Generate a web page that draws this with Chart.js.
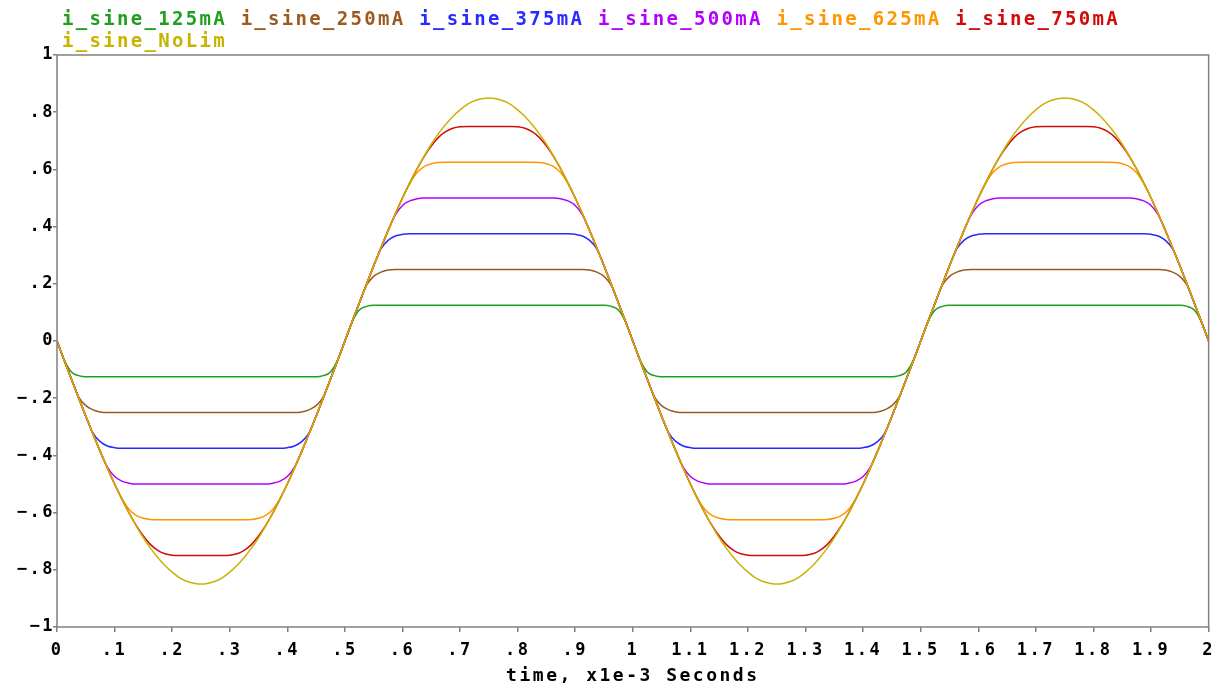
<!DOCTYPE html>
<html>
<head>
<meta charset="utf-8">
<title>i_sine</title>
<script src="https://cdn.jsdelivr.net/npm/chart.js@4/dist/chart.umd.min.js"></script>
<style>
  html, body { margin: 0; padding: 0; background: #fff; }
  #wrap { position: relative; width: 1223px; height: 688px; }
  #leyenda {
    position: absolute; left: 62px; top: 7px; width: 1120px;
    font: bold 19px "DejaVu Sans Mono", monospace; line-height: 22px;
    letter-spacing: 2.3px; white-space: normal;
  }
  canvas { position: absolute; left: 0; top: 0; }
</style>
</head>
<body>
<div id="wrap">
  <canvas id="grafica" width="1223" height="688"></canvas>
  <div id="leyenda"></div>
</div>
<script>
// eje de tiempo (ms)
const tiempo = [
  0, 0.0125, 0.025, 0.0375, 0.05, 0.0625, 0.075, 0.0875, 0.1, 0.1125, 0.125, 0.1375, 0.15, 0.1625, 0.175, 0.1875, 0.2, 0.2125, 0.225, 0.2375,
  0.25, 0.2625, 0.275, 0.2875, 0.3, 0.3125, 0.325, 0.3375, 0.35, 0.3625, 0.375, 0.3875, 0.4, 0.4125, 0.425, 0.4375, 0.45, 0.4625, 0.475, 0.4875,
  0.5, 0.5125, 0.525, 0.5375, 0.55, 0.5625, 0.575, 0.5875, 0.6, 0.6125, 0.625, 0.6375, 0.65, 0.6625, 0.675, 0.6875, 0.7, 0.7125, 0.725, 0.7375,
  0.75, 0.7625, 0.775, 0.7875, 0.8, 0.8125, 0.825, 0.8375, 0.85, 0.8625, 0.875, 0.8875, 0.9, 0.9125, 0.925, 0.9375, 0.95, 0.9625, 0.975, 0.9875,
  1, 1.0125, 1.025, 1.0375, 1.05, 1.0625, 1.075, 1.0875, 1.1, 1.1125, 1.125, 1.1375, 1.15, 1.1625, 1.175, 1.1875, 1.2, 1.2125, 1.225, 1.2375,
  1.25, 1.2625, 1.275, 1.2875, 1.3, 1.3125, 1.325, 1.3375, 1.35, 1.3625, 1.375, 1.3875, 1.4, 1.4125, 1.425, 1.4375, 1.45, 1.4625, 1.475, 1.4875,
  1.5, 1.5125, 1.525, 1.5375, 1.55, 1.5625, 1.575, 1.5875, 1.6, 1.6125, 1.625, 1.6375, 1.65, 1.6625, 1.675, 1.6875, 1.7, 1.7125, 1.725, 1.7375,
  1.75, 1.7625, 1.775, 1.7875, 1.8, 1.8125, 1.825, 1.8375, 1.85, 1.8625, 1.875, 1.8875, 1.9, 1.9125, 1.925, 1.9375, 1.95, 1.9625, 1.975, 1.9875,
  2
];

const i_sine_125mA = [
  0, -.066, -.108, -.121, -.125, -.125, -.125, -.125, -.125, -.125, -.125, -.125, -.125, -.125, -.125, -.125, -.125, -.125, -.125, -.125,
  -.125, -.125, -.125, -.125, -.125, -.125, -.125, -.125, -.125, -.125, -.125, -.125, -.125, -.125, -.125, -.125, -.125, -.121, -.108, -.066,
  0, .066, .108, .121, .125, .125, .125, .125, .125, .125, .125, .125, .125, .125, .125, .125, .125, .125, .125, .125,
  .125, .125, .125, .125, .125, .125, .125, .125, .125, .125, .125, .125, .125, .125, .125, .125, .125, .121, .108, .066,
  0, -.066, -.108, -.121, -.125, -.125, -.125, -.125, -.125, -.125, -.125, -.125, -.125, -.125, -.125, -.125, -.125, -.125, -.125, -.125,
  -.125, -.125, -.125, -.125, -.125, -.125, -.125, -.125, -.125, -.125, -.125, -.125, -.125, -.125, -.125, -.125, -.125, -.121, -.108, -.066,
  0, .066, .108, .121, .125, .125, .125, .125, .125, .125, .125, .125, .125, .125, .125, .125, .125, .125, .125, .125,
  .125, .125, .125, .125, .125, .125, .125, .125, .125, .125, .125, .125, .125, .125, .125, .125, .125, .121, .108, .066,
  0
];

const i_sine_250mA = [
  0, -.067, -.133, -.195, -.226, -.241, -.248, -.25, -.25, -.25, -.25, -.25, -.25, -.25, -.25, -.25, -.25, -.25, -.25, -.25,
  -.25, -.25, -.25, -.25, -.25, -.25, -.25, -.25, -.25, -.25, -.25, -.25, -.25, -.25, -.248, -.241, -.226, -.195, -.133, -.067,
  0, .067, .133, .195, .226, .241, .248, .25, .25, .25, .25, .25, .25, .25, .25, .25, .25, .25, .25, .25,
  .25, .25, .25, .25, .25, .25, .25, .25, .25, .25, .25, .25, .25, .25, .248, .241, .226, .195, .133, .067,
  0, -.067, -.133, -.195, -.226, -.241, -.248, -.25, -.25, -.25, -.25, -.25, -.25, -.25, -.25, -.25, -.25, -.25, -.25, -.25,
  -.25, -.25, -.25, -.25, -.25, -.25, -.25, -.25, -.25, -.25, -.25, -.25, -.25, -.25, -.248, -.241, -.226, -.195, -.133, -.067,
  0, .067, .133, .195, .226, .241, .248, .25, .25, .25, .25, .25, .25, .25, .25, .25, .25, .25, .25, .25,
  .25, .25, .25, .25, .25, .25, .25, .25, .25, .25, .25, .25, .25, .25, .248, .241, .226, .195, .133, .067,
  0
];

const i_sine_375mA = [
  0, -.067, -.133, -.198, -.263, -.322, -.352, -.367, -.373, -.375, -.375, -.375, -.375, -.375, -.375, -.375, -.375, -.375, -.375, -.375,
  -.375, -.375, -.375, -.375, -.375, -.375, -.375, -.375, -.375, -.375, -.375, -.375, -.373, -.367, -.352, -.322, -.263, -.198, -.133, -.067,
  0, .067, .133, .198, .263, .322, .352, .367, .373, .375, .375, .375, .375, .375, .375, .375, .375, .375, .375, .375,
  .375, .375, .375, .375, .375, .375, .375, .375, .375, .375, .375, .375, .373, .367, .352, .322, .263, .198, .133, .067,
  0, -.067, -.133, -.198, -.263, -.322, -.352, -.367, -.373, -.375, -.375, -.375, -.375, -.375, -.375, -.375, -.375, -.375, -.375, -.375,
  -.375, -.375, -.375, -.375, -.375, -.375, -.375, -.375, -.375, -.375, -.375, -.375, -.373, -.367, -.352, -.322, -.263, -.198, -.133, -.067,
  0, .067, .133, .198, .263, .322, .352, .367, .373, .375, .375, .375, .375, .375, .375, .375, .375, .375, .375, .375,
  .375, .375, .375, .375, .375, .375, .375, .375, .375, .375, .375, .375, .373, .367, .352, .322, .263, .198, .133, .067,
  0
];

const i_sine_500mA = [
  0, -.067, -.133, -.198, -.263, -.325, -.386, -.441, -.474, -.49, -.497, -.5, -.5, -.5, -.5, -.5, -.5, -.5, -.5, -.5,
  -.5, -.5, -.5, -.5, -.5, -.5, -.5, -.5, -.5, -.5, -.497, -.49, -.474, -.441, -.386, -.325, -.263, -.198, -.133, -.067,
  0, .067, .133, .198, .263, .325, .386, .441, .474, .49, .497, .5, .5, .5, .5, .5, .5, .5, .5, .5,
  .5, .5, .5, .5, .5, .5, .5, .5, .5, .5, .497, .49, .474, .441, .386, .325, .263, .198, .133, .067,
  0, -.067, -.133, -.198, -.263, -.325, -.386, -.441, -.474, -.49, -.497, -.5, -.5, -.5, -.5, -.5, -.5, -.5, -.5, -.5,
  -.5, -.5, -.5, -.5, -.5, -.5, -.5, -.5, -.5, -.5, -.497, -.49, -.474, -.441, -.386, -.325, -.263, -.198, -.133, -.067,
  0, .067, .133, .198, .263, .325, .386, .441, .474, .49, .497, .5, .5, .5, .5, .5, .5, .5, .5, .5,
  .5, .5, .5, .5, .5, .5, .5, .5, .5, .5, .497, .49, .474, .441, .386, .325, .263, .198, .133, .067,
  0
];

const i_sine_625mA = [
  0, -.067, -.133, -.198, -.263, -.325, -.386, -.444, -.5, -.55, -.588, -.61, -.62, -.624, -.625, -.625, -.625, -.625, -.625, -.625,
  -.625, -.625, -.625, -.625, -.625, -.625, -.625, -.624, -.62, -.61, -.588, -.55, -.5, -.444, -.386, -.325, -.263, -.198, -.133, -.067,
  0, .067, .133, .198, .263, .325, .386, .444, .5, .55, .588, .61, .62, .624, .625, .625, .625, .625, .625, .625,
  .625, .625, .625, .625, .625, .625, .625, .624, .62, .61, .588, .55, .5, .444, .386, .325, .263, .198, .133, .067,
  0, -.067, -.133, -.198, -.263, -.325, -.386, -.444, -.5, -.55, -.588, -.61, -.62, -.624, -.625, -.625, -.625, -.625, -.625, -.625,
  -.625, -.625, -.625, -.625, -.625, -.625, -.625, -.624, -.62, -.61, -.588, -.55, -.5, -.444, -.386, -.325, -.263, -.198, -.133, -.067,
  0, .067, .133, .198, .263, .325, .386, .444, .5, .55, .588, .61, .62, .624, .625, .625, .625, .625, .625, .625,
  .625, .625, .625, .625, .625, .625, .625, .624, .62, .61, .588, .55, .5, .444, .386, .325, .263, .198, .133, .067,
  0
];

const i_sine_750mA = [
  0, -.067, -.133, -.198, -.263, -.325, -.386, -.444, -.5, -.552, -.601, -.645, -.682, -.712, -.732, -.744, -.749, -.75, -.75, -.75,
  -.75, -.75, -.75, -.75, -.749, -.744, -.732, -.712, -.682, -.645, -.601, -.552, -.5, -.444, -.386, -.325, -.263, -.198, -.133, -.067,
  0, .067, .133, .198, .263, .325, .386, .444, .5, .552, .601, .645, .682, .712, .732, .744, .749, .75, .75, .75,
  .75, .75, .75, .75, .749, .744, .732, .712, .682, .645, .601, .552, .5, .444, .386, .325, .263, .198, .133, .067,
  0, -.067, -.133, -.198, -.263, -.325, -.386, -.444, -.5, -.552, -.601, -.645, -.682, -.712, -.732, -.744, -.749, -.75, -.75, -.75,
  -.75, -.75, -.75, -.75, -.749, -.744, -.732, -.712, -.682, -.645, -.601, -.552, -.5, -.444, -.386, -.325, -.263, -.198, -.133, -.067,
  0, .067, .133, .198, .263, .325, .386, .444, .5, .552, .601, .645, .682, .712, .732, .744, .749, .75, .75, .75,
  .75, .75, .75, .75, .749, .744, .732, .712, .682, .645, .601, .552, .5, .444, .386, .325, .263, .198, .133, .067,
  0
];

const i_sine_NoLim = [
  0, -.067, -.133, -.198, -.263, -.325, -.386, -.444, -.5, -.552, -.601, -.646, -.688, -.725, -.757, -.785, -.808, -.827, -.84, -.847,
  -.85, -.847, -.84, -.827, -.808, -.785, -.757, -.725, -.688, -.646, -.601, -.552, -.5, -.444, -.386, -.325, -.263, -.198, -.133, -.067,
  0, .067, .133, .198, .263, .325, .386, .444, .5, .552, .601, .646, .688, .725, .757, .785, .808, .827, .84, .847,
  .85, .847, .84, .827, .808, .785, .757, .725, .688, .646, .601, .552, .5, .444, .386, .325, .263, .198, .133, .067,
  0, -.067, -.133, -.198, -.263, -.325, -.386, -.444, -.5, -.552, -.601, -.646, -.688, -.725, -.757, -.785, -.808, -.827, -.84, -.847,
  -.85, -.847, -.84, -.827, -.808, -.785, -.757, -.725, -.688, -.646, -.601, -.552, -.5, -.444, -.386, -.325, -.263, -.198, -.133, -.067,
  0, .067, .133, .198, .263, .325, .386, .444, .5, .552, .601, .646, .688, .725, .757, .785, .808, .827, .84, .847,
  .85, .847, .84, .827, .808, .785, .757, .725, .688, .646, .601, .552, .5, .444, .386, .325, .263, .198, .133, .067,
  0
];

const nombres = ["i_sine_125mA", "i_sine_250mA", "i_sine_375mA", "i_sine_500mA", "i_sine_625mA", "i_sine_750mA", "i_sine_NoLim"];
const series  = [i_sine_125mA, i_sine_250mA, i_sine_375mA, i_sine_500mA, i_sine_625mA, i_sine_750mA, i_sine_NoLim];
const colores = ["#1ea01e", "#9e5a1e", "#2a2aff", "#b400ff", "#ff9600", "#d20a0a", "#c8b400"];

series.forEach((s, i) => console.log(nombres[i], s.length, tiempo.length));

// leyenda en texto coloreado, sin cajas
const leyenda = document.getElementById("leyenda");
nombres.forEach((n, i) => {
    const span = document.createElement("span");
    span.textContent = n;
    span.style.color = colores[i];
    leyenda.appendChild(span);
    leyenda.appendChild(document.createTextNode(" "));
});

// etiquetas tipo ".8", "−.2", "1.5"
function formatoTick(v) {
    const r = Math.round(v * 10) / 10;
    if (r === 0) return "0";
    let s = Math.abs(r).toString();
    if (s.startsWith("0.")) s = s.slice(1);
    return (r < 0 ? "\u2212" : "") + s;
}

const fuente = "'DejaVu Sans Mono', monospace";

// espaciado de letras para el texto del canvas
const espaciado = {
    id: "espaciado",
    beforeUpdate(chart) { chart.ctx.letterSpacing = "2.5px"; },
    beforeDraw(chart) { chart.ctx.letterSpacing = "2.5px"; }
};

// marco gris alrededor del área de trazado
const marco = {
    id: "marco",
    afterDraw(chart) {
        const { ctx, chartArea: a } = chart;
        ctx.save();
        ctx.strokeStyle = "#808080";
        ctx.lineWidth = 1.5;
        ctx.strokeRect(a.left, a.top, a.right - a.left, a.bottom - a.top);
        ctx.restore();
    }
};

const datasets = series.map((s, i) => ({
    label: nombres[i],
    data: tiempo.map((t, j) => ({ x: t, y: s[j] })),
    borderColor: colores[i],
    backgroundColor: colores[i],
    borderWidth: 1.5,
    pointRadius: 0,
    fill: false,
    cubicInterpolationMode: "monotone",
    order: i === 6 ? 0 : 7 - i
}));

const ctx = document.getElementById("grafica").getContext("2d");
new Chart(ctx, {
    type: "line",
    data: { datasets: datasets },
    plugins: [espaciado, marco],
    options: {
        responsive: false,
        devicePixelRatio: 1,
        animation: false,
        layout: { padding: { top: 55, right: 13, left: 0, bottom: 0 } },
        plugins: {
            legend: { display: false },
            tooltip: { enabled: false }
        },
        scales: {
            x: {
                type: "linear",
                min: 0,
                max: 2,
                ticks: {
                    stepSize: 0.1,
                    autoSkip: false,
                    maxRotation: 0,
                    color: "#000",
                    padding: 8,
                    font: { family: fuente, size: 17, weight: "bold" },
                    callback: formatoTick
                },
                grid: { drawOnChartArea: false, drawTicks: true, tickLength: 5, color: "#808080", lineWidth: 1.5 },
                border: { display: false },
                title: {
                    display: true,
                    text: "time, x1e-3 Seconds",
                    color: "#000",
                    font: { family: fuente, size: 18, weight: "bold" },
                    padding: { top: 0, bottom: 1 }
                },
                afterFit: (scale) => { scale.height = 61; }
            },
            y: {
                min: -1,
                max: 1,
                ticks: {
                    stepSize: 0.2,
                    color: "#000",
                    padding: -2,
                    font: { family: fuente, size: 17, weight: "bold" },
                    callback: formatoTick
                },
                grid: { drawOnChartArea: false, drawTicks: true, tickLength: 4, color: "#808080", lineWidth: 1.5 },
                border: { display: false },
                afterFit: (scale) => { scale.width = 57; }
            }
        }
    }
});
</script>
</body>
</html>
